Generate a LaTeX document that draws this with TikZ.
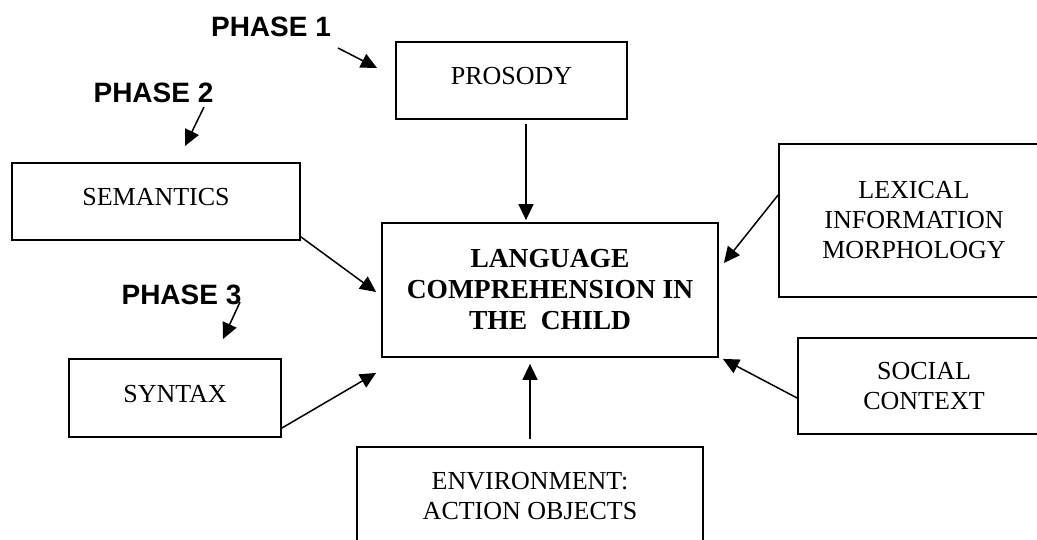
\documentclass[tikz,border=0pt]{standalone}
\usepackage{fontspec}
\setmainfont{Liberation Serif}
\newfontfamily\phasefont{Liberation Sans}
\usetikzlibrary{arrows.meta,calc}
\tikzset{
  boxnode/.style={draw, line width=1.8pt, inner sep=0pt, align=center,
    font=\fontsize{26}{30}\selectfont},
  mainnode/.style={boxnode, font=\fontsize{27.5}{31}\selectfont\bfseries},
  phaselabel/.style={inner sep=0pt, font=\phasefont\fontsize{28}{32}\selectfont\bfseries},
  conn/.style={line width=1.5pt, -{Triangle[length=16pt,width=15pt]}}
}
\begin{document}
\begin{tikzpicture}[x=1pt,y=-1pt]
\useasboundingbox (0,0) rectangle (1037,539);
\clip (0,0) rectangle (1037,539);
% boxes
\node[boxnode, minimum width=231pt, minimum height=77pt, text depth=9pt] (prosody) at (511.5,80.5) {PROSODY};
\node[boxnode, minimum width=288pt, minimum height=77pt, text depth=9pt] (semantics) at (156,201.5) {SEMANTICS};
\node[boxnode, minimum width=212pt, minimum height=78pt, text depth=9pt] (syntax) at (175,398) {SYNTAX};
\node[mainnode, minimum width=336pt, minimum height=134pt] (main) at (550,290) {LANGUAGE\\COMPREHENSION IN\\THE\ \ CHILD};
\node[boxnode, minimum width=270pt, minimum height=153pt] (lexical) at (914,220.5) {LEXICAL\\INFORMATION\\MORPHOLOGY};
\node[boxnode, minimum width=252pt, minimum height=96pt] (social) at (924,386) {SOCIAL\\CONTEXT};
\node[boxnode, minimum width=346pt, minimum height=98pt] (env) at (530,496) {ENVIRONMENT:\\ACTION OBJECTS};
% phase labels
\node[phaselabel] (ph1) at (271,26.5) {PHASE 1};
\node[phaselabel] (ph2) at (153.5,93) {PHASE 2};
\node[phaselabel] (ph3) at (181.5,295) {PHASE 3};
\coordinate (p1a) at (338,48);
\coordinate (p1b) at (377,68);
\coordinate (p2a) at (204,107);
\coordinate (p2b) at (185,146);
\coordinate (p3a) at (240,302);
\coordinate (p3b) at (223,339);
\draw[conn] (p1a) -- (p1b);
\draw[conn] (p2a) -- (p2b);
\draw[conn] (p3a) -- (p3b);
% connectors
\draw[conn] ($(prosody.south)+(14.5,4)$) -- ($(main.north)+(-24,-2)$);
\draw[conn] ($(semantics.south east)+(0,-4)$) -- ($(main.west)+(-5,2)$);
\draw[conn] ($(syntax.east)+(0,30)$) -- ($(main.south west)+(-5,15)$);
\draw[conn] ($(lexical.west)+(0,-25.5)$) -- ($(main.east)+(5,-27)$);
\draw[conn] ($(social.west)+(0,12)$) -- ($(main.south east)+(4,1)$);
\draw[conn] ($(env.north)+(0,-7)$) -- ($(main.south)+(-20,6)$);
\end{tikzpicture}
\end{document}
